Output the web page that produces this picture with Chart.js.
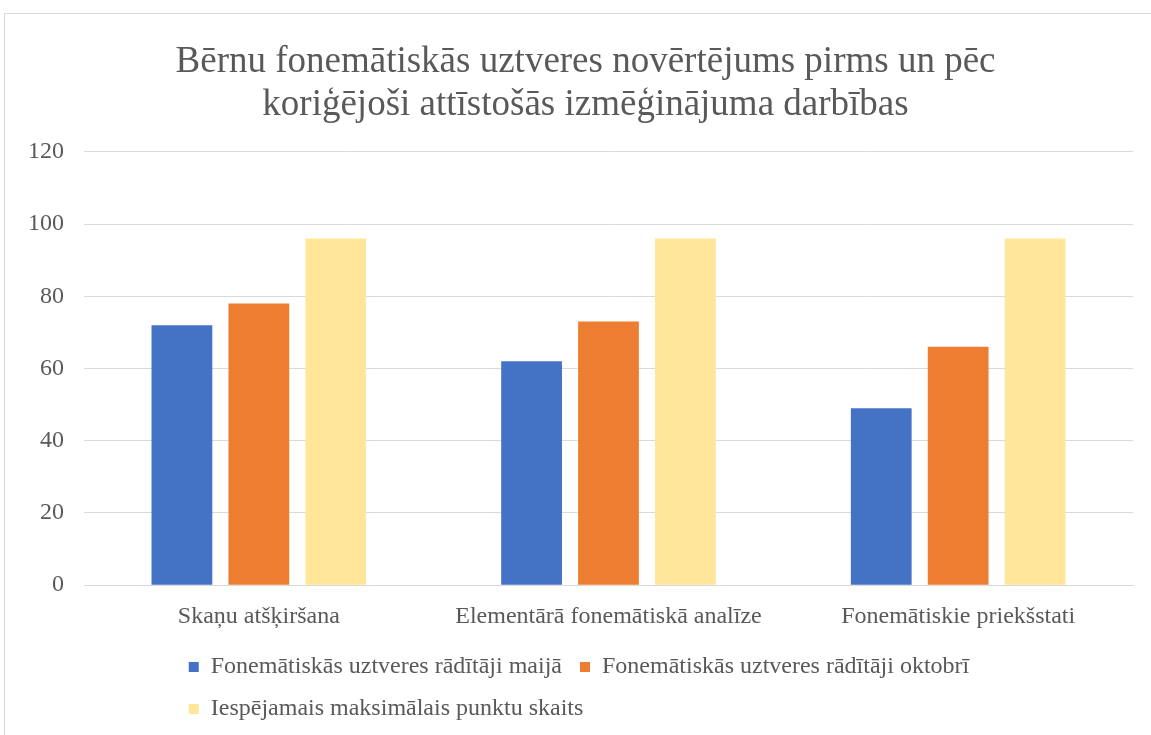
<!DOCTYPE html>
<html>
<head>
<meta charset="utf-8">
<script src="https://cdn.jsdelivr.net/npm/chart.js@4"></script>
<style>
  html, body { margin: 0; padding: 0; background: #fff; overflow: hidden; }
  #frame {
    position: absolute; left: 4px; top: 13px;
    width: 1160px; height: 740px;
    border: 1px solid #d9d9d9; box-sizing: border-box;
  }
  #wrap { position: absolute; left: 5px; top: 14px; width: 1146px; height: 740px; }
</style>
</head>
<body>
<div id="frame"></div>
<div id="wrap"><canvas id="chart"></canvas></div>
<script>
// ===== DATA =====
const categories = ["Skaņu atšķiršana", "Elementārā fonemātiskā analīze", "Fonemātiskie priekšstati"];
const seriesNames = [
    "Fonemātiskās uztveres rādītāji maijā",
    "Fonemātiskās uztveres rādītāji oktobrī",
    "Iespējamais maksimālais punktu skaits"
];
const mayValues = [72, 62, 49];
const octoberValues = [78, 73, 66];
const maxValues = [96, 96, 96];
const seriesColors = ["#4472C4", "#ED7D31", "#FFE699"];

const textColor = "#595959";
const serif = "'Liberation Serif', 'Times New Roman', serif";
Chart.defaults.font.family = serif;
Chart.defaults.color = textColor;

// ===== Title nudge + legend rows left-aligned like Excel =====
const layoutTweaks = {
    id: 'layoutTweaks',
    beforeDraw(chart) {
        const t = chart.titleBlock;
        if (t && !t._nudged) { t.left += 30; t._nudged = true; }
        const lg = chart.legend;
        if (lg && lg.lineWidths && lg.lineWidths.length > 1) {
            const maxW = Math.max(...lg.lineWidths) - 17;
            lg.lineWidths = lg.lineWidths.map(() => maxW);
        }
    }
};

new Chart(document.getElementById("chart"), {
    type: "bar",
    data: {
        labels: categories,
        datasets: [
            { label: seriesNames[0], data: mayValues, backgroundColor: seriesColors[0] },
            { label: seriesNames[1], data: octoberValues, backgroundColor: seriesColors[1] },
            { label: seriesNames[2], data: maxValues, backgroundColor: seriesColors[2] }
        ]
    },
    options: {
        responsive: true,
        maintainAspectRatio: false,
        animation: false,
        categoryPercentage: 0.66,
        barPercentage: 0.79,
        layout: { padding: { left: 3, right: 18, top: 8, bottom: 23 } },
        scales: {
            x: {
                grid: { display: false, drawTicks: false },
                border: { color: "#d9d9d9", width: 1 },
                ticks: { color: textColor, font: { family: serif, size: 24 }, padding: 17 },
                afterFit(scale) { scale.height -= 11; }
            },
            y: {
                min: 0,
                max: 120,
                ticks: { stepSize: 20, color: textColor, font: { family: serif, size: 24 }, padding: 20 },
                grid: { color: "#d9d9d9", lineWidth: 1, drawTicks: false },
                border: { display: false }
            }
        },
        plugins: {
            title: {
                display: true,
                text: [
                    "Bērnu fonemātiskās uztveres novērtējums pirms un pēc",
                    "koriģējoši attīstošās izmēģinājuma darbības"
                ],
                color: textColor,
                font: { family: serif, size: 37, weight: "normal", lineHeight: 1.16 },
                padding: { top: 19, bottom: 25 }
            },
            legend: {
                position: "bottom",
                labels: {
                    color: textColor,
                    font: { family: serif, size: 24 },
                    boxWidth: 10,
                    boxHeight: 10,
                    padding: 18
                }
            },
            tooltip: { enabled: false }
        }
    },
    plugins: [layoutTweaks]
});
</script>
</body>
</html>
